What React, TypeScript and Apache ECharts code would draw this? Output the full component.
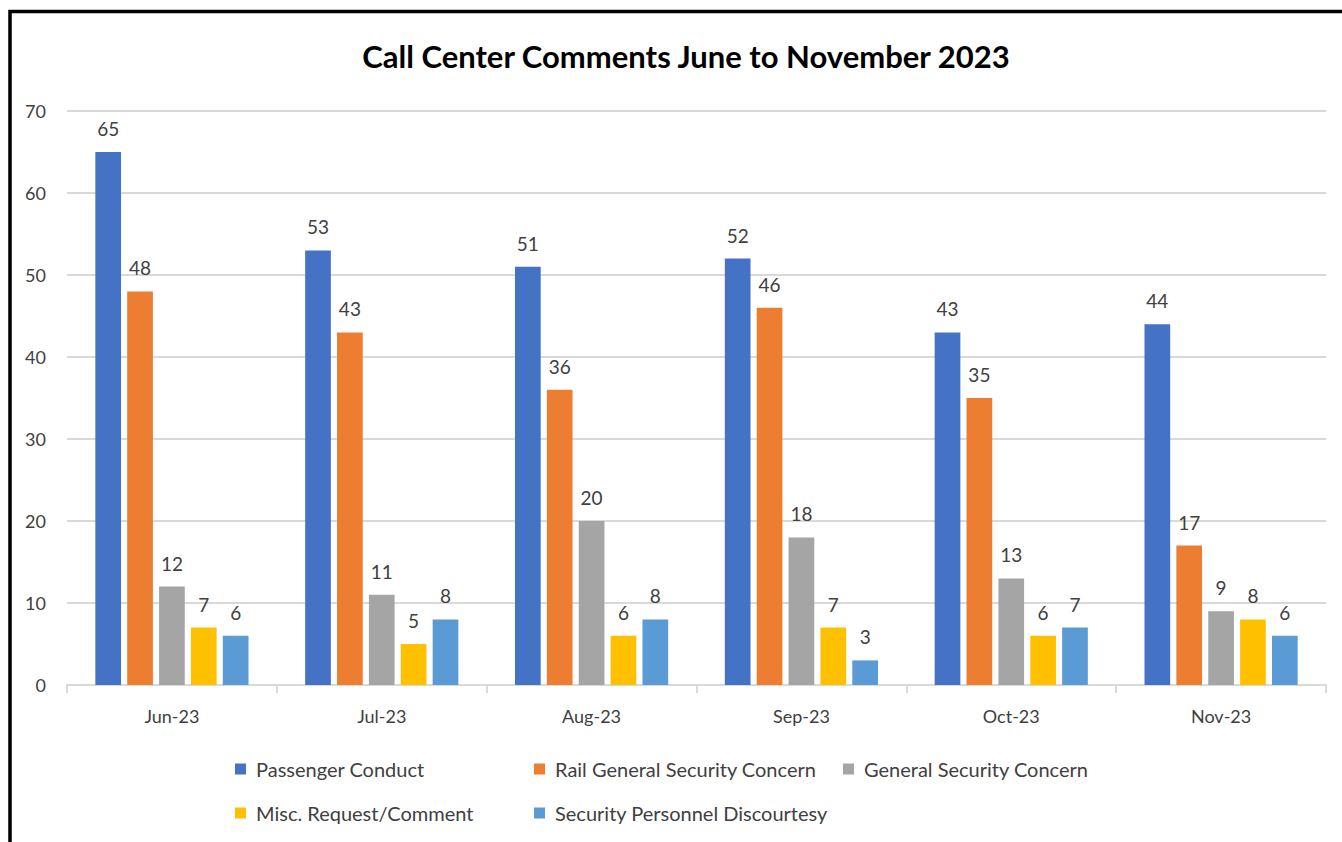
import React, { useEffect, useRef } from "react";
import * as echarts from "echarts";

const categories = ["Jun-23", "Jul-23", "Aug-23", "Sep-23", "Oct-23", "Nov-23"];
const seriesNames = [
  "Passenger Conduct",
  "Rail General Security Concern",
  "General Security Concern",
  "Misc. Request/Comment",
  "Security Personnel Discourtesy",
];
const passengerConduct = [65, 53, 51, 52, 43, 44];
const railGeneralSecurity = [48, 43, 36, 46, 35, 17];
const generalSecurity = [12, 11, 20, 18, 13, 9];
const miscRequest = [7, 5, 6, 7, 6, 8];
const personnelDiscourtesy = [6, 8, 8, 3, 7, 6];
const colors = ["#4472C4", "#ED7D31", "#A5A5A5", "#FFC000", "#5B9BD5"];
const legendPos = [
  { left: 230, top: 754 },
  { left: 529, top: 754 },
  { left: 838, top: 754 },
  { left: 230, top: 798 },
  { left: 529, top: 798 },
];

const FONT = "Lato, 'Open Sans', sans-serif";

export default function App() {
  const ref = useRef<HTMLDivElement>(null);
  useEffect(() => {
    if (!ref.current) return;
    const chart = echarts.init(ref.current, undefined, { renderer: "svg" });
    const values = [passengerConduct, railGeneralSecurity, generalSecurity, miscRequest, personnelDiscourtesy];
    chart.setOption({
      animation: false,
      backgroundColor: "#ffffff",
      title: {
        text: "Call Center Comments June to November 2023",
        left: 681,
        textAlign: "center",
        top: 35,
        textStyle: { fontFamily: FONT, fontSize: 31, fontWeight: "bold", color: "#000000" },
      },
      legend: seriesNames.map((n, i) => ({
        data: [n],
        left: legendPos[i].left,
        top: legendPos[i].top,
        icon: "rect",
        itemWidth: 11,
        itemHeight: 11,
        itemGap: 0,
        textStyle: { fontFamily: FONT, fontSize: 20, color: "#404040", padding: [0, 0, 0, 5] },
      })),
      grid: { left: 67, right: 16, top: 111, bottom: 157, containLabel: false },
      xAxis: {
        type: "category",
        data: categories,
        axisLine: { lineStyle: { color: "#D9D9D9", width: 2 } },
        axisTick: { show: true, length: 8, lineStyle: { color: "#D9D9D9", width: 2 } },
        axisLabel: { fontFamily: FONT, fontSize: 18, color: "#404040", margin: 22 },
      },
      yAxis: {
        type: "value",
        min: 0,
        max: 70,
        interval: 10,
        axisLine: { show: false },
        axisTick: { show: false },
        splitLine: { lineStyle: { color: "#D9D9D9", width: 2 } },
        axisLabel: { fontFamily: FONT, fontSize: 18, color: "#404040", margin: 21 },
      },
      series: seriesNames.map((n, i) => ({
        name: n,
        type: "bar",
        data: values[i],
        itemStyle: { color: colors[i] },
        barGap: "24%",
        barCategoryGap: "27%",
        label: {
          show: true,
          position: "top",
          distance: 14,
          fontFamily: FONT,
          fontSize: 19,
          color: "#404040",
        },
      })),
      graphic: [
        {
          type: "rect",
          shape: { x: 10, y: 11.5, width: 1500, height: 1000 },
          style: { fill: "none", stroke: "#000000", lineWidth: 3.5 },
          silent: true,
        },
      ],
    });
    return () => chart.dispose();
  }, []);
  return (
    <div
      ref={ref}
      style={{ position: "absolute", left: 0, top: 0, width: 1342, height: 842 }}
    />
  );
}
